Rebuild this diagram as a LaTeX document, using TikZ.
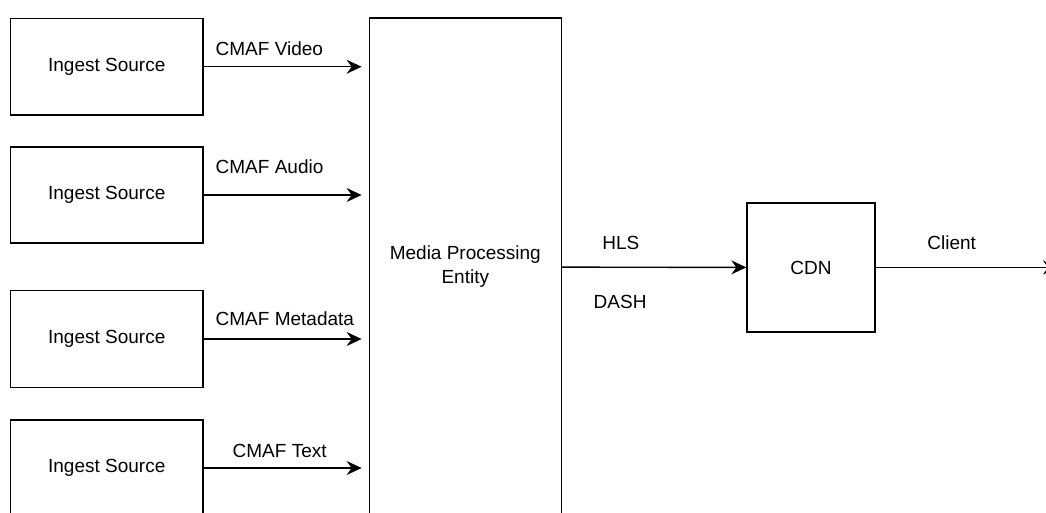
\documentclass[tikz,border=0pt]{standalone}
\usepackage{fontspec}
\setmainfont{Liberation Sans}
\usetikzlibrary{arrows.meta}

\begin{document}
\begin{tikzpicture}[x=1pt, y=-1pt, line width=1.4pt, >={Stealth[length=15pt, width=14pt, inset=5pt]},
  box/.style={rectangle, draw, inner sep=0pt, align=center},
  lbl/.style={anchor=base west, inner sep=0pt}]
        \tikzstyle{every node}=[font=\fontsize{19}{24}\selectfont]

          \useasboundingbox (0,0) rectangle (1046,512);
          \clip (0,0) rectangle (1046,512);

          \node[box, minimum width=192.5pt, minimum height=96.5pt] (1) at (106.75,66.75) {Ingest Source};
          \node[box, minimum width=192.5pt, minimum height=96pt] (2) at (106.75,195) {Ingest Source};
          \node[box, minimum width=192.5pt, minimum height=96.5pt] (3) at (106.75,339) {Ingest Source};
          \node[box, minimum width=192.5pt, minimum height=96pt] (4) at (106.75,468) {Ingest Source};
          \node[box, minimum width=192pt, minimum height=498pt] (5) at (465.3,267) {Media Processing\\Entity};
          \node[box, minimum width=128pt, minimum height=129pt] (6) at (811,267.5) {CDN};
          \coordinate (7) at (1058,267.5);

          \node[lbl] (v) at (215,55) {CMAF Video};
          \node[lbl] (a) at (215,173) {CMAF Audio};
          \node[lbl] (m) at (215,325) {CMAF Metadata};
          \node[lbl] (t) at (232,457) {CMAF Text};
          \node[lbl] (h) at (601.7,249) {HLS};
          \node[lbl] (d) at (593,308) {DASH};
          \node[lbl] (c) at (926.7,249) {Client};

          \path[->, shorten >=7pt]
            (1) edge (1 -| 5.west)
            (2) edge (2 -| 5.west)
            (3) edge (3 -| 5.west)
            (4) edge (4 -| 5.west);
          \draw[->] (5) -- (6);
          \draw[->] (6) -- (7);

        \end{tikzpicture}
\end{document}
